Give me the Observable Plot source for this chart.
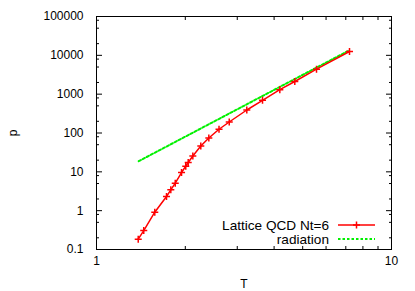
<!DOCTYPE html>
<html>
<head>
<meta charset="utf-8">
<script src="https://cdn.jsdelivr.net/npm/d3@7"></script>
<script src="https://cdn.jsdelivr.net/npm/@observablehq/plot@0.6"></script>
<style>
  html, body { margin: 0; padding: 0; background: #fff; }
</style>
</head>
<body>
<div id="chart"></div>
<script>
// Lattice QCD Nt=6 data
const latticeT = [1.385, 1.446, 1.576, 1.727, 1.786, 1.849, 1.942, 2.007, 2.046, 2.121, 2.257, 2.403, 2.602, 2.818, 3.232, 3.654, 4.182, 4.701, 5.569, 7.205];
const latticeP = [0.184, 0.308, 0.914, 2.32, 3.45, 5.10, 9.6, 14.0, 17.4, 25.6, 46.3, 74.4, 125, 192, 391, 696, 1304, 2121, 4398, 12570];
// radiation line endpoints
const radiationT = [1.39, 7.2];
const radiationP = [18.8, 13500];
// ticks
const xMajor = [1, 10];
const xMinor = [2, 3, 4, 5, 6, 7, 8, 9];
const yMajor = [0.1, 1, 10, 100, 1000, 10000, 100000];
const yMinorMult = [2, 5, 8];
const yLabels = ["0.1", "1", "10", "100", "1000", "10000", "100000"];
const seriesNames = ["Lattice QCD Nt=6", "radiation"];
const seriesColors = ["#ff0000", "#00f000"];

const lattice = latticeT.map((t, i) => ({T: t, p: latticeP[i]}));
const radiation = radiationT.map((t, i) => ({T: t, p: radiationP[i]}));
const yMinor = yMajor.slice(0, -1).flatMap(d => yMinorMult.map(m => d * m));
const blank = () => "";

const W = 415, H = 291, ML = 96, MR = 24, MT = 16, MB = 42;

const chart = Plot.plot({
  width: W, height: H,
  marginLeft: ML, marginRight: MR, marginTop: MT, marginBottom: MB,
  style: {fontFamily: "Liberation Sans, Arial, sans-serif", fontSize: "12px", color: "#000", background: "#fff"},
  x: {type: "log", domain: [1, 10]},
  y: {type: "log", domain: [0.1, 100000]},
  marks: [
    // labels
    Plot.axisX(xMajor, {anchor: "bottom", tickSize: 0, tickPadding: 7, tickFormat: d => String(d), label: "T", labelAnchor: "center", labelOffset: 38, labelArrow: "none"}),
    Plot.axisY(yMajor, {anchor: "left", tickSize: 0, tickPadding: 13, tickFormat: (d, i) => yLabels[yMajor.indexOf(d)], label: "p", labelAnchor: "center", labelOffset: 88, labelArrow: "none"}),
    // inward ticks, all four sides
    Plot.axisX(xMajor, {anchor: "bottom", tickSize: -6, tickFormat: blank, label: null}),
    Plot.axisX(xMinor, {anchor: "bottom", tickSize: -3, tickFormat: blank, label: null}),
    Plot.axisX(xMajor, {anchor: "top", tickSize: -6, tickFormat: blank, label: null}),
    Plot.axisX(xMinor, {anchor: "top", tickSize: -3, tickFormat: blank, label: null}),
    Plot.axisY(yMajor, {anchor: "left", tickSize: -6, tickFormat: blank, label: null}),
    Plot.axisY(yMinor, {anchor: "left", tickSize: -3, tickFormat: blank, label: null}),
    Plot.axisY(yMajor, {anchor: "right", tickSize: -6, tickFormat: blank, label: null}),
    Plot.axisY(yMinor, {anchor: "right", tickSize: -3, tickFormat: blank, label: null}),
    Plot.frame({stroke: "#000", strokeWidth: 1}),
    Plot.line(radiation, {x: "T", y: "p", stroke: seriesColors[1], strokeWidth: 2, strokeDasharray: "2.5,2"}),
    Plot.line(lattice, {x: "T", y: "p", stroke: seriesColors[0], strokeWidth: 1.5}),
    Plot.dot(lattice, {x: "T", y: "p", symbol: "plus", r: 2.4, stroke: seriesColors[0], strokeWidth: 1.5})
  ]
});

// legend (inside plot, lower right)
const svg = d3.select(chart);
const lg = svg.append("g").attr("font-family", "Liberation Sans, Arial, sans-serif").attr("font-size", 13.6);
const textX = 329, lineX1 = 338, lineX2 = 375, rowY = [225, 239];
seriesNames.forEach((name, i) => {
  lg.append("text").attr("x", textX).attr("y", rowY[i]).attr("dy", "0.35em")
    .attr("text-anchor", "end").attr("fill", "#000").text(name);
  const ln = lg.append("line").attr("x1", lineX1).attr("x2", lineX2).attr("y1", rowY[i]).attr("y2", rowY[i])
    .attr("stroke", seriesColors[i]).attr("stroke-width", i === 0 ? 1.5 : 2);
  if (i === 1) ln.attr("stroke-dasharray", "2.5,2");
  if (i === 0) {
    const cx = (lineX1 + lineX2) / 2;
    lg.append("path").attr("d", `M${cx - 3.5},${rowY[i]}H${cx + 3.5}M${cx},${rowY[i] - 3.5}V${rowY[i] + 3.5}`)
      .attr("stroke", seriesColors[0]).attr("stroke-width", 1.5).attr("fill", "none");
  }
});

document.getElementById("chart").appendChild(chart);
</script>
</body>
</html>
